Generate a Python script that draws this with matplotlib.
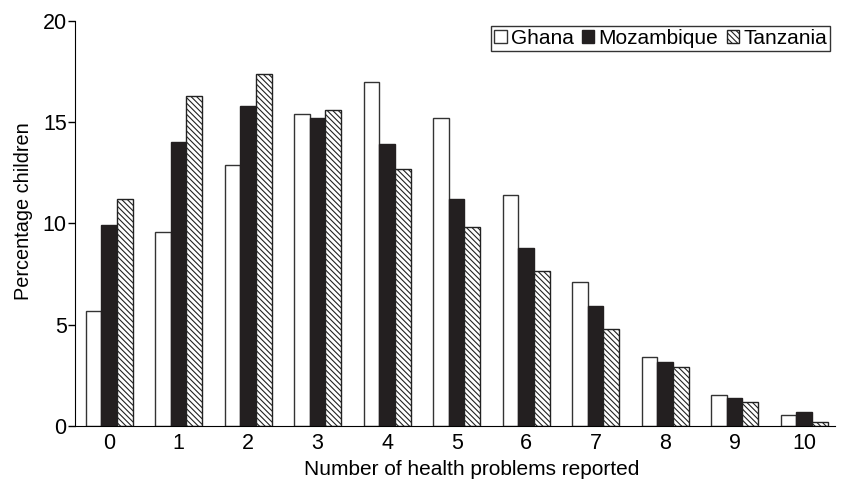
import numpy as np
import matplotlib.pyplot as plt

plt.rcParams['font.family'] = ['Liberation Sans', 'DejaVu Sans']
plt.rcParams['hatch.linewidth'] = 0.8

problems = list(range(11))
ghana = [5.7, 9.6, 12.9, 15.4, 17.0, 15.2, 11.4, 7.1, 3.4, 1.55, 0.55]
mozambique = [9.9, 14.0, 15.8, 15.2, 13.9, 11.2, 8.8, 5.9, 3.15, 1.4, 0.7]
tanzania = [11.2, 16.3, 17.4, 15.6, 12.7, 9.8, 7.65, 4.8, 2.9, 1.2, 0.2]

fig = plt.figure(figsize=(8.43, 4.8), dpi=100)
ax = fig.add_axes([0.089, 0.1125, 0.902, 0.844])

x = np.arange(len(problems))
w = 0.225
ax.bar(x - w, ghana, w, color='white', edgecolor='#333333', linewidth=1.0,
       label='Ghana')
ax.bar(x, mozambique, w, color='#231f20', edgecolor='#231f20', linewidth=1.0,
       label='Mozambique')
ax.bar(x + w, tanzania, w, color='white', edgecolor='#222222', linewidth=1.0,
       hatch='\\\\\\\\\\\\', label='Tanzania')

ax.set_xlim(-0.49, 10.45)
ax.set_ylim(0, 20)
ax.set_xticks(x)
ax.set_xticklabels([str(p) for p in problems])
ax.set_yticks([0, 5, 10, 15, 20])
ax.tick_params(axis='x', length=0, pad=5, labelsize=15.5)
ax.tick_params(axis='y', length=5, width=1, pad=1, labelsize=15.5)
ax.spines['top'].set_visible(False)
ax.spines['right'].set_visible(False)
ax.set_xlabel('Number of health problems reported', fontsize=15)
ax.set_ylabel('Percentage children', fontsize=14.3)
ax.xaxis.set_label_coords(0.522, -0.085)
ax.yaxis.set_label_coords(-0.055, 0.53)

leg = ax.legend(loc='upper right', ncol=3, fontsize=15, frameon=True,
                fancybox=False, edgecolor='black', handlelength=0.6,
                handleheight=0.6, handletextpad=0.2, columnspacing=0.4,
                borderpad=0.15, borderaxespad=0.25)
leg.get_frame().set_linewidth(1.0)

fig.savefig('out.png', dpi=100)
